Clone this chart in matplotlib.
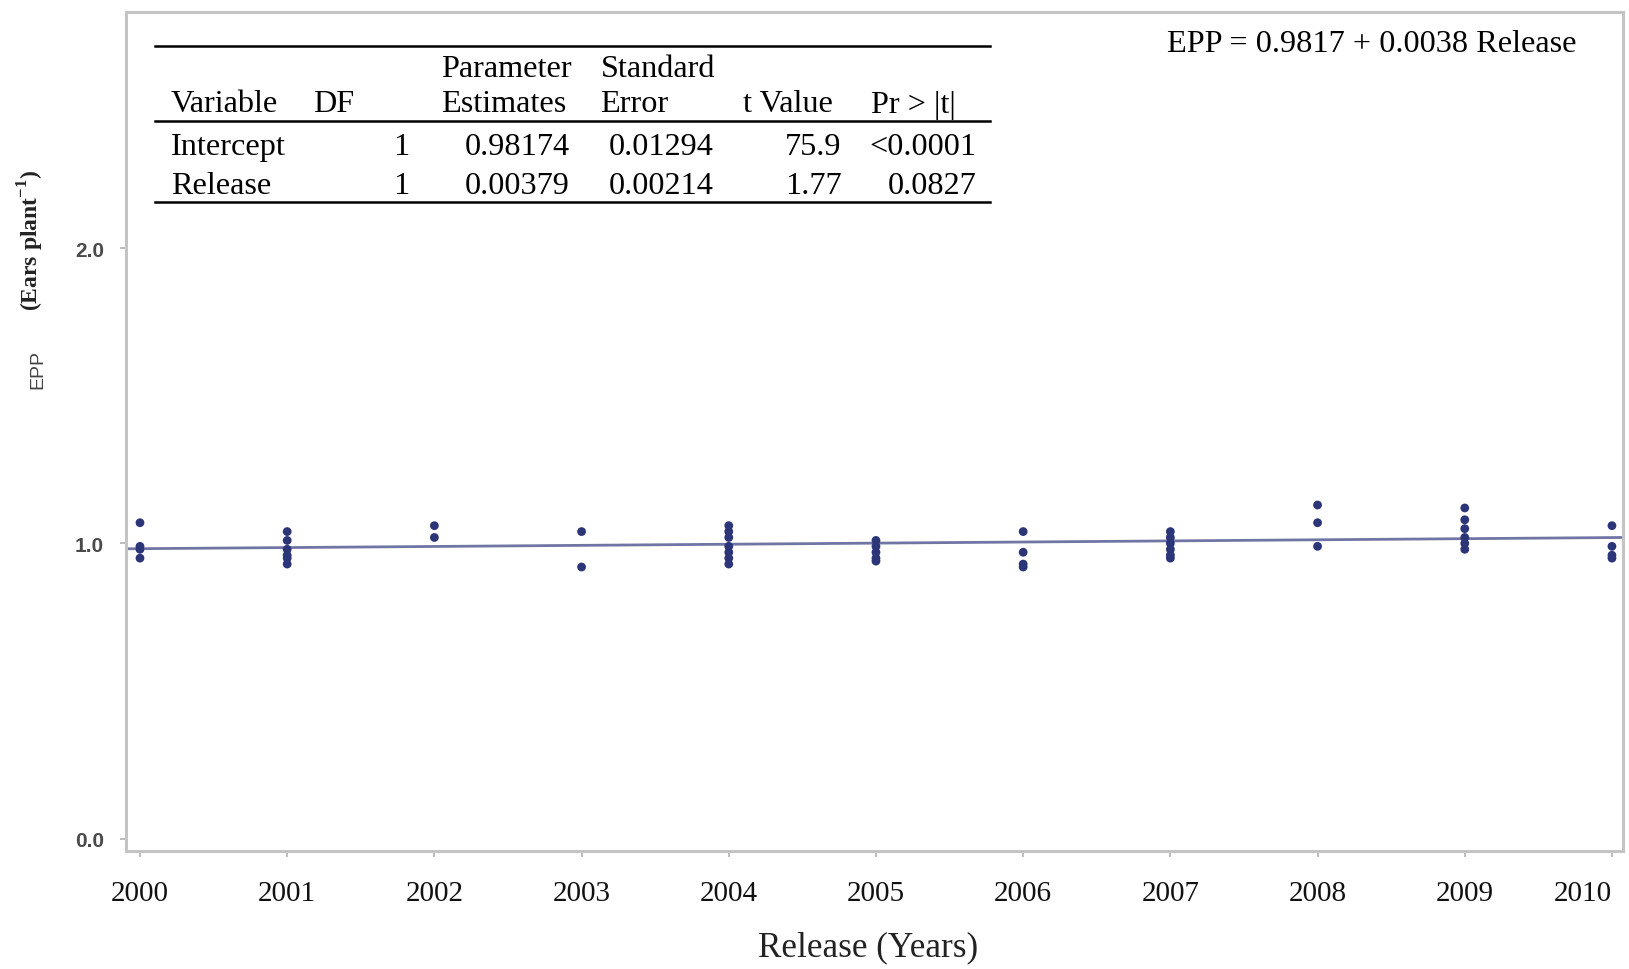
import matplotlib
matplotlib.use("Agg")
import matplotlib.pyplot as plt
from matplotlib.lines import Line2D

# observed ears per plant by hybrid release year
release = [2000, 2000, 2000, 2000,
           2001, 2001, 2001, 2001, 2001, 2001,
           2002, 2002,
           2003, 2003,
           2004, 2004, 2004, 2004, 2004, 2004, 2004,
           2005, 2005, 2005, 2005, 2005,
           2006, 2006, 2006, 2006,
           2007, 2007, 2007, 2007, 2007, 2007,
           2008, 2008, 2008,
           2009, 2009, 2009, 2009, 2009, 2009,
           2010, 2010, 2010, 2010]
epp = [1.07, 0.99, 0.98, 0.95,
       1.04, 1.01, 0.98, 0.96, 0.95, 0.93,
       1.06, 1.02,
       1.04, 0.92,
       1.06, 1.04, 1.02, 0.99, 0.97, 0.95, 0.93,
       1.01, 0.99, 0.97, 0.95, 0.94,
       1.04, 0.97, 0.93, 0.92,
       1.04, 1.02, 1.00, 0.98, 0.96, 0.95,
       1.13, 1.07, 0.99,
       1.12, 1.08, 1.05, 1.02, 1.00, 0.98,
       1.06, 0.99, 0.96, 0.95]

# regression output
intercept = 0.9817
slope = 0.0038
x_ticks = list(range(2000, 2011))
y_ticks = [0.0, 1.0, 2.0]

tab_variable = ["Intercept", "Release"]
tab_df = ["1", "1"]
tab_estimate = ["0.98174", "0.00379"]
tab_stderr = ["0.01294", "0.00214"]
tab_tvalue = ["75.9", "1.77"]
tab_p = ["<0.0001", "0.0827"]

W, H = 1629, 970
SERIF = "Liberation Serif"
SANS = "Liberation Sans"


def fx(x):
    return x / W


def fy(y):
    return 1 - y / H


fig = plt.figure(figsize=(W / 100, H / 100), dpi=100)
ax = fig.add_axes([fx(126), fy(852), fx(1623) - fx(126), fy(13) - fy(852)])

xlo, xhi = 1999.905, 2010.075
ax.set_xlim(xlo, xhi)
ax.set_ylim(-0.042, 2.80)

ax.plot([xlo, xhi], [intercept, intercept + slope * (xhi - 2000)],
        color="#7075a3", lw=2.0, zorder=2)
ax.scatter(release, epp, s=40, color="#2c3578", edgecolors="none", zorder=3)

for s in ax.spines.values():
    s.set_color("#c4c4c4")
    s.set_linewidth(2.2)

ax.set_xticks(x_ticks)
ax.set_xticklabels([str(v) for v in x_ticks], family=SERIF, fontsize=21, color="#111111")
# last label is pulled in so it stays inside the picture
ax.get_xticklabels()[-1].set_horizontalalignment("right")
ax.set_yticks(y_ticks)
ax.set_yticklabels([f"{v:.1f}" for v in y_ticks], family=SANS, fontsize=15,
                   color="#4a4a4a", fontweight="bold")
ax.tick_params(axis="x", length=4, width=1.2, color="#b0b0b0", pad=17)
ax.tick_params(axis="y", length=4, width=1.2, color="#b0b0b0", pad=12)

# axis titles
fig.text(fx(868), fy(948), "Release (Years)", family=SERIF, fontsize=25.3,
         ha="center", va="center", color="#222222")
fig.text(fx(38), fy(370), "EPP", family=SANS, fontsize=14, rotation=90,
         ha="center", va="center", color="#444444")
plt.rcParams["mathtext.fontset"] = "custom"
plt.rcParams["mathtext.rm"] = SERIF
fig.text(fx(31), fy(240), r"(Ears plant$^{\mathregular{-1}}$)", family=SERIF,
         fontsize=17, fontweight="bold", rotation=90, ha="center", va="center",
         color="#222222")

fs = 23.2

# equation
fig.text(fx(1167), fy(52), f"EPP = {intercept:.4f} + {slope:.4f} Release",
         family=SERIF, fontsize=fs, ha="left", va="baseline")

# parameter estimates table
for yy in (46.7, 122, 202.5):
    fig.add_artist(Line2D([fx(155), fx(990)], [fy(yy), fy(yy)],
                          transform=fig.transFigure, color="black", lw=1.8))


def put(x, y, s, ha="left"):
    fig.text(fx(x), fy(y), s, family=SERIF, fontsize=fs, ha=ha, va="baseline")


put(441, 77.5, "Parameter")
put(600.5, 77.5, "Standard")
put(171, 112.5, "Variable")
put(313, 112.5, "DF")
put(441, 112.5, "Estimates")
put(600.5, 112.5, "Error")
put(743, 112.5, "t Value")
put(870.7, 112.5, "Pr > |t|")

for i, yy in enumerate((155, 194.5)):
    put(171, yy, tab_variable[i])
    put(409.5, yy, tab_df[i], ha="right")
    put(570, yy, tab_estimate[i], ha="right")
    put(714, yy, tab_stderr[i], ha="right")
    put(841.6, yy, tab_tvalue[i], ha="right")
    put(976.7, yy, tab_p[i], ha="right")

fig.savefig("out.png", dpi=100)
